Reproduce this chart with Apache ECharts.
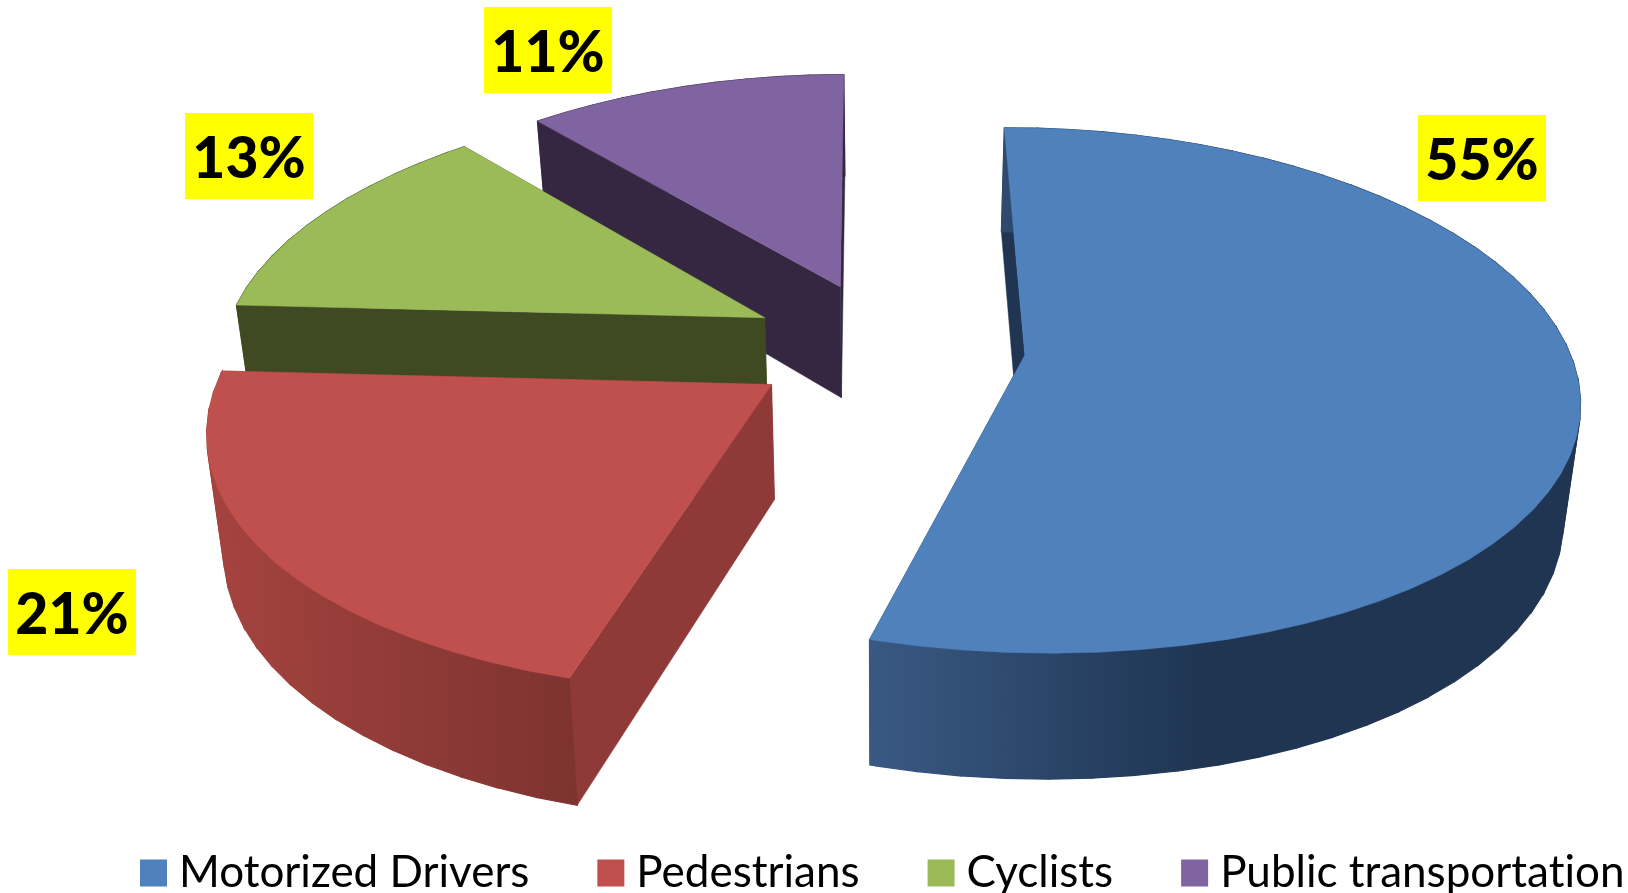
<!DOCTYPE html>
<html>
<head>
<meta charset="utf-8">
<style>
    html, body { margin: 0; padding: 0; background: #fff; }
    #chart { width: 1628px; height: 893px; }
</style>
<script src="https://cdn.jsdelivr.net/npm/echarts@6/dist/echarts.min.js"></script>
</head>
<body>
<div id="chart"></div>
<script>
// chart data; the labels show them rounded
const categories = ["Motorized Drivers", "Pedestrians", "Cyclists", "Public transportation"];
const shares = [54.6, 21.3, 12.9, 11.2];

// styles, same order as categories
const topColors = ["#4f81bd", "#c0504d", "#9bbb59", "#8064a2"];
const wallColors = ["#1f3552", "#8f3a38", "#3f4a23", "#352741"];
const rimFrom = ["#3a5a85", "#a5433f", "#3f4a23", "#352741"];
const rimTo = ["#1f3552", "#7d3330", "#3f4a23", "#352741"];
const rimStops = [[857, 1200], [210, 575], [230, 770], [530, 850]];
const labelBoxes = [[1418, 115], [8, 569], [185, 113], [484, 7]];
// far slices first: purple, green, red, then blue
const drawOrder = [4, 3, 2, 1];

// perspective model of the exploded pie, pixels of the 1628x893 page
const cx = 887, cy = 346, radius = 543, tilt = 255.5, depth = 113.5, explode = 0.255;
const perspX = 0.15, perspY = 0.134, perspZ = 0.096, bottomShrink = 0.025;
const firstAngle = -0.3;

function project(wx, wy, wz) {
    let sx = radius * wx / (1 - perspX * wy) * (1 - bottomShrink * wz);
    let sy = tilt * wy / (1 - perspY * wy) + depth * wz / (1 - perspZ * wy);
    return [cx + sx, cy + sy];
}

function sliceItem(index, params, api) {
    let share = api.value(0);
    let start = api.value(1);
    let end = start + share * 3.6;
    let mid = (start + end) / 2 * Math.PI / 180;
    let ox = Math.sin(mid) * explode;
    let oy = -Math.cos(mid) * explode;

    let arc = [];
    for (let a = start; a < end; a += 4) {
        arc.push(a);
    }
    arc.push(end);
    let rimPoint = (a, z) => {
        let r = a * Math.PI / 180;
        return project(ox + Math.sin(r), oy - Math.cos(r), z);
    };
    let flatWall = a => [project(ox, oy, 0), rimPoint(a, 0), rimPoint(a, 1), project(ox, oy, 1)];
    let poly = (points, fill, lineWidth) => ({
        type: "polygon",
        shape: { points },
        style: { fill, stroke: fill, lineWidth: lineWidth || 0.5 }
    });

    let rimGradient = new echarts.graphic.LinearGradient(rimStops[index][0], 0, rimStops[index][1], 0, [
        { offset: 0, color: rimFrom[index] },
        { offset: 1, color: rimTo[index] }
    ], true);

    // rim as one quad per arc step, so the silhouette joins top and bottom edges
    let rim = arc.slice(1).map((a, i) => poly([
        rimPoint(arc[i], 0), rimPoint(a, 0), rimPoint(a, 1), rimPoint(arc[i], 1)
    ], rimGradient, 1.2));
    let top = [project(ox, oy, 0)].concat(arc.map(a => rimPoint(a, 0)));
    let box = labelBoxes[index];

    return {
        type: "group",
        children: [
            poly(flatWall(end), wallColors[index]),
            poly(flatWall(start), wallColors[index])
        ].concat(rim, [
            poly(top, topColors[index]),
            {
                type: "rect",
                shape: { x: box[0], y: box[1], width: 128, height: 86 },
                style: { fill: "#ffff00" }
            },
            {
                type: "text",
                style: {
                    x: box[0] + 64,
                    y: box[1] + 47,
                    text: Math.round(share) + "%",
                    align: "center",
                    verticalAlign: "middle",
                    font: "900 57px Lato",
                    fill: "#000"
                }
            }
        ])
    };
}

let startAngle = firstAngle;
let series = categories.map((name, i) => {
    let item = {
        name,
        type: "custom",
        coordinateSystem: "none",
        silent: true,
        z: drawOrder[i],
        itemStyle: { color: topColors[i] },
        data: [[shares[i], startAngle]],
        renderItem: (params, api) => sliceItem(i, params, api)
    };
    startAngle += shares[i] * 3.6;
    return item;
});

let option = {
    animation: false,
    backgroundColor: "#fff",
    legend: {
        data: categories,
        left: 140,
        top: 851,
        width: 1600,
        padding: 0,
        icon: "rect",
        itemWidth: 27,
        itemHeight: 27,
        itemGap: 68,
        selectedMode: false,
        textStyle: { fontFamily: "Lato", fontSize: 44, color: "#000", padding: [0, 0, 0, 7] }
    },
    series
};

let chart = echarts.init(document.getElementById("chart"));
chart.setOption(option);
// the canvas exists only after the first paint; paint again without the "ti" ligature
let canvas = chart.getDom().querySelector("canvas");
if (canvas) {
    canvas.getContext("2d").textRendering = "optimizeSpeed";
    chart.setOption(option, true);
}
</script>
</body>
</html>
